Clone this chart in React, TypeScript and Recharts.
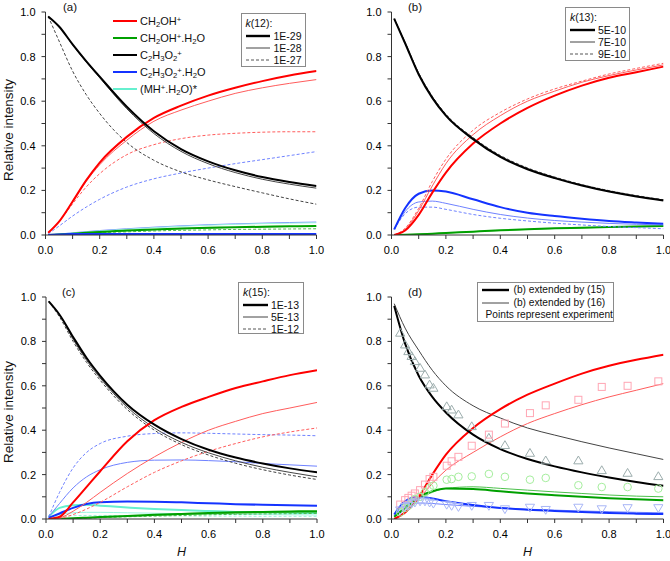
import React from 'react'
import { ComposedChart, Line, Scatter, XAxis, YAxis } from 'recharts'

// H values where the model curves are sampled
const hGrid = [0.01, 0.05, 0.1, 0.15, 0.2, 0.3, 0.4, 0.5, 0.6, 0.7, 0.8, 0.9, 1.0]
const axisTicks = [0, 0.1, 0.2, 0.3, 0.4, 0.5, 0.6, 0.7, 0.8, 0.9, 1.0]

// (a) k(12): 1E-29 / 1E-28 / 1E-27
const aRed29 = [0.01, 0.06, 0.15, 0.245, 0.325, 0.44, 0.525, 0.58, 0.625, 0.66, 0.69, 0.715, 0.735]
const aRed28 = [0.01, 0.06, 0.15, 0.24, 0.315, 0.425, 0.51, 0.56, 0.6, 0.635, 0.66, 0.68, 0.697]
const aRed27 = [0.01, 0.06, 0.14, 0.215, 0.275, 0.36, 0.405, 0.432, 0.448, 0.456, 0.461, 0.463, 0.463]
const aGreen29 = [0, 0.002, 0.006, 0.01, 0.014, 0.02, 0.025, 0.029, 0.032, 0.035, 0.037, 0.039, 0.04]
const aGreen28 = [0, 0.002, 0.005, 0.009, 0.013, 0.019, 0.024, 0.028, 0.031, 0.034, 0.036, 0.038, 0.039]
const aGreen27 = [0, 0.002, 0.004, 0.007, 0.01, 0.014, 0.018, 0.021, 0.023, 0.025, 0.026, 0.027, 0.028]
const aBlack29 = [0.98, 0.935, 0.855, 0.78, 0.71, 0.575, 0.465, 0.385, 0.33, 0.29, 0.26, 0.238, 0.22]
const aBlack28 = [0.98, 0.935, 0.853, 0.776, 0.705, 0.566, 0.455, 0.375, 0.32, 0.28, 0.25, 0.228, 0.21]
const aBlack27 = [0.98, 0.87, 0.735, 0.63, 0.545, 0.415, 0.335, 0.283, 0.247, 0.217, 0.189, 0.162, 0.138]
const aBlue29 = [0, 0.002, 0.004, 0.005, 0.005, 0.005, 0.005, 0.005, 0.005, 0.005, 0.005, 0.005, 0.005]
const aBlue28 = [0, 0.004, 0.01, 0.015, 0.02, 0.028, 0.035, 0.041, 0.046, 0.05, 0.053, 0.056, 0.058]
const aBlue27 = [0.005, 0.04, 0.085, 0.125, 0.16, 0.215, 0.252, 0.278, 0.3, 0.32, 0.338, 0.356, 0.374]
const aCyan29 = [0, 0.004, 0.009, 0.014, 0.018, 0.026, 0.033, 0.039, 0.044, 0.048, 0.051, 0.053, 0.055]

// (b) k(13): 5E-10 / 7E-10 / 9E-10
const bRed5 = [0, 0.02, 0.09, 0.19, 0.28, 0.41, 0.5, 0.57, 0.625, 0.67, 0.705, 0.73, 0.755]
const bRed7 = [0, 0.025, 0.11, 0.22, 0.32, 0.45, 0.535, 0.6, 0.645, 0.685, 0.715, 0.74, 0.763]
const bRed9 = [0, 0.03, 0.12, 0.24, 0.34, 0.47, 0.55, 0.61, 0.655, 0.69, 0.722, 0.747, 0.77]
const bGreen5 = [0, 0.001, 0.003, 0.006, 0.009, 0.015, 0.021, 0.026, 0.03, 0.033, 0.036, 0.038, 0.04]
const bGreen7 = [0, 0.001, 0.003, 0.006, 0.009, 0.015, 0.02, 0.025, 0.029, 0.032, 0.035, 0.037, 0.039]
const bBlack5 = [0.97, 0.86, 0.72, 0.615, 0.535, 0.43, 0.35, 0.295, 0.255, 0.222, 0.195, 0.173, 0.155]
const bBlack7 = [0.97, 0.862, 0.724, 0.619, 0.539, 0.434, 0.354, 0.298, 0.258, 0.224, 0.197, 0.175, 0.157]
const bBlack9 = [0.97, 0.864, 0.727, 0.622, 0.542, 0.437, 0.357, 0.301, 0.26, 0.226, 0.199, 0.177, 0.158]
const bBlue5 = [0.025, 0.12, 0.185, 0.2, 0.195, 0.16, 0.125, 0.1, 0.085, 0.073, 0.063, 0.056, 0.05]
const bBlue7 = [0.025, 0.105, 0.148, 0.152, 0.142, 0.115, 0.092, 0.076, 0.065, 0.058, 0.052, 0.048, 0.045]
const bBlue9 = [0.025, 0.095, 0.125, 0.125, 0.115, 0.092, 0.075, 0.063, 0.053, 0.045, 0.038, 0.033, 0.028]

// (c) k(15): 1E-13 / 5E-13 / 1E-12
const cRed1 = [0, 0.01, 0.075, 0.145, 0.215, 0.35, 0.445, 0.505, 0.55, 0.59, 0.62, 0.648, 0.67]
const cRed5 = [0, 0.005, 0.035, 0.075, 0.12, 0.205, 0.28, 0.345, 0.4, 0.44, 0.475, 0.5, 0.525]
const cRed10 = [0, 0.003, 0.02, 0.045, 0.075, 0.145, 0.21, 0.262, 0.305, 0.34, 0.37, 0.392, 0.41]
const cGreen1 = [0, 0.001, 0.003, 0.006, 0.009, 0.014, 0.019, 0.023, 0.027, 0.03, 0.032, 0.034, 0.035]
const cGreen5 = [0, 0.001, 0.003, 0.005, 0.008, 0.012, 0.016, 0.02, 0.023, 0.026, 0.028, 0.03, 0.031]
const cGreen10 = [0, 0.001, 0.002, 0.004, 0.006, 0.01, 0.013, 0.016, 0.019, 0.021, 0.023, 0.024, 0.025]
const cBlack1 = [0.98, 0.92, 0.82, 0.725, 0.645, 0.515, 0.425, 0.36, 0.312, 0.277, 0.25, 0.228, 0.21]
const cBlack5 = [0.98, 0.92, 0.81, 0.715, 0.635, 0.503, 0.41, 0.345, 0.298, 0.262, 0.233, 0.21, 0.19]
const cBlack10 = [0.98, 0.91, 0.8, 0.705, 0.625, 0.493, 0.4, 0.335, 0.288, 0.251, 0.222, 0.198, 0.178]
const cBlue1 = [0.005, 0.025, 0.05, 0.068, 0.076, 0.079, 0.078, 0.075, 0.071, 0.067, 0.064, 0.062, 0.06]
const cBlue5 = [0.01, 0.07, 0.14, 0.19, 0.222, 0.255, 0.265, 0.266, 0.263, 0.258, 0.25, 0.244, 0.238]
const cBlue10 = [0.01, 0.12, 0.23, 0.3, 0.34, 0.373, 0.385, 0.388, 0.386, 0.383, 0.38, 0.378, 0.375]
const cCyan1 = [0.01, 0.05, 0.062, 0.064, 0.06, 0.052, 0.045, 0.04, 0.036, 0.032, 0.03, 0.028, 0.027]
const cCyan5 = [0.005, 0.02, 0.028, 0.03, 0.03, 0.028, 0.026, 0.024, 0.022, 0.021, 0.02, 0.019, 0.018]
const cCyan10 = [0.005, 0.012, 0.015, 0.016, 0.016, 0.015, 0.015, 0.014, 0.013, 0.013, 0.012, 0.012, 0.012]

// (d) (b) extended by (15) / (16)
const dRed15 = [0, 0.03, 0.1, 0.2, 0.29, 0.41, 0.495, 0.56, 0.61, 0.655, 0.69, 0.717, 0.74]
const dRed16 = [0, 0.025, 0.09, 0.16, 0.22, 0.3, 0.37, 0.43, 0.475, 0.515, 0.55, 0.58, 0.61]
const dGreen15 = [0.01, 0.05, 0.1, 0.125, 0.137, 0.135, 0.125, 0.115, 0.107, 0.1, 0.094, 0.089, 0.085]
const dGreen16 = [0.01, 0.045, 0.09, 0.12, 0.138, 0.145, 0.138, 0.13, 0.122, 0.115, 0.108, 0.103, 0.1]
const dBlack15 = [0.96, 0.79, 0.645, 0.55, 0.48, 0.38, 0.315, 0.27, 0.237, 0.21, 0.187, 0.167, 0.15]
const dBlack16 = [0.97, 0.86, 0.76, 0.67, 0.6, 0.51, 0.455, 0.41, 0.378, 0.348, 0.32, 0.294, 0.268]
const dBlue15 = [0.02, 0.08, 0.1, 0.092, 0.08, 0.063, 0.05, 0.042, 0.036, 0.031, 0.027, 0.024, 0.022]
const dBlue16 = [0.015, 0.06, 0.072, 0.07, 0.065, 0.057, 0.05, 0.044, 0.04, 0.036, 0.033, 0.03, 0.028]

// (d) experimental points
const expH = [0.032, 0.05, 0.062, 0.074, 0.086, 0.105, 0.123, 0.14, 0.154, 0.203, 0.221, 0.246, 0.295, 0.358, 0.417, 0.509, 0.567, 0.687, 0.773, 0.868, 0.981]
const expC2H3O2 = [0.838, 0.785, 0.755, 0.733, 0.71, 0.68, 0.65, 0.605, 0.59, 0.507, 0.492, 0.47, 0.417, 0.365, 0.332, 0.297, 0.263, 0.263, 0.219, 0.207, 0.192]
const expCH2OH = [0.065, 0.085, 0.095, 0.105, 0.115, 0.13, 0.155, 0.18, 0.19, 0.24, 0.26, 0.28, 0.33, 0.38, 0.43, 0.477, 0.512, 0.537, 0.595, 0.6, 0.62]
const expCH2OHH2O = [0.03, 0.05, 0.06, 0.075, 0.09, 0.1, 0.12, 0.14, 0.15, 0.177, 0.18, 0.19, 0.192, 0.203, 0.19, 0.177, 0.185, 0.152, 0.144, 0.144, 0.137]
const expC2H3O2H2O = [0.04, 0.055, 0.06, 0.07, 0.075, 0.08, 0.08, 0.075, 0.07, 0.065, 0.06, 0.055, 0.06, 0.06, 0.045, 0.052, 0.042, 0.052, 0.045, 0.05, 0.05]

const FONT = '"Liberation Sans", Arial, sans-serif'

const TONES: Record<string, { main: string; light: string }> = {
  red: { main: '#ff0000', light: '#ff5c5c' },
  green: { main: '#00a000', light: '#4cc04c' },
  black: { main: '#000000', light: '#444444' },
  blue: { main: '#1433ff', light: '#6f82ff' },
  cyan: { main: '#66f0cf', light: '#9cf5df' },
}

type Kind = 'thick' | 'thin' | 'dash'
type Series = { key: string; values: number[]; tone: string; kind: Kind }

const strokeFor = (tone: string, kind: Kind) => ({
  stroke: kind === 'thick' ? TONES[tone].main : TONES[tone].light,
  strokeWidth: kind === 'thick' ? 2 : 1,
  strokeDasharray: kind === 'dash' ? '3 2' : undefined,
})

const panelA: Series[] = [
  { key: 'bl28', values: aBlue28, tone: 'blue', kind: 'thin' },
  { key: 'cy29', values: aCyan29, tone: 'cyan', kind: 'thin' },
  { key: 'g27', values: aGreen27, tone: 'green', kind: 'dash' },
  { key: 'g28', values: aGreen28, tone: 'green', kind: 'thin' },
  { key: 'g29', values: aGreen29, tone: 'green', kind: 'thick' },
  { key: 'bl29', values: aBlue29, tone: 'blue', kind: 'thick' },
  { key: 'bl27', values: aBlue27, tone: 'blue', kind: 'dash' },
  { key: 'r27', values: aRed27, tone: 'red', kind: 'dash' },
  { key: 'k27', values: aBlack27, tone: 'black', kind: 'dash' },
  { key: 'r28', values: aRed28, tone: 'red', kind: 'thin' },
  { key: 'k28', values: aBlack28, tone: 'black', kind: 'thin' },
  { key: 'r29', values: aRed29, tone: 'red', kind: 'thick' },
  { key: 'k29', values: aBlack29, tone: 'black', kind: 'thick' },
]

const panelB: Series[] = [
  { key: 'g7', values: bGreen7, tone: 'green', kind: 'thin' },
  { key: 'g5', values: bGreen5, tone: 'green', kind: 'thick' },
  { key: 'bl9', values: bBlue9, tone: 'blue', kind: 'dash' },
  { key: 'bl7', values: bBlue7, tone: 'blue', kind: 'thin' },
  { key: 'bl5', values: bBlue5, tone: 'blue', kind: 'thick' },
  { key: 'r9', values: bRed9, tone: 'red', kind: 'dash' },
  { key: 'r7', values: bRed7, tone: 'red', kind: 'thin' },
  { key: 'r5', values: bRed5, tone: 'red', kind: 'thick' },
  { key: 'k9', values: bBlack9, tone: 'black', kind: 'dash' },
  { key: 'k7', values: bBlack7, tone: 'black', kind: 'thin' },
  { key: 'k5', values: bBlack5, tone: 'black', kind: 'thick' },
]

const panelC: Series[] = [
  { key: 'cy10', values: cCyan10, tone: 'cyan', kind: 'dash' },
  { key: 'cy5', values: cCyan5, tone: 'cyan', kind: 'thin' },
  { key: 'cy1', values: cCyan1, tone: 'cyan', kind: 'thick' },
  { key: 'g10', values: cGreen10, tone: 'green', kind: 'dash' },
  { key: 'g5', values: cGreen5, tone: 'green', kind: 'thin' },
  { key: 'g1', values: cGreen1, tone: 'green', kind: 'thick' },
  { key: 'bl10', values: cBlue10, tone: 'blue', kind: 'dash' },
  { key: 'bl5', values: cBlue5, tone: 'blue', kind: 'thin' },
  { key: 'bl1', values: cBlue1, tone: 'blue', kind: 'thick' },
  { key: 'r10', values: cRed10, tone: 'red', kind: 'dash' },
  { key: 'r5', values: cRed5, tone: 'red', kind: 'thin' },
  { key: 'k10', values: cBlack10, tone: 'black', kind: 'dash' },
  { key: 'k5', values: cBlack5, tone: 'black', kind: 'thin' },
  { key: 'r1', values: cRed1, tone: 'red', kind: 'thick' },
  { key: 'k1', values: cBlack1, tone: 'black', kind: 'thick' },
]

const panelD: Series[] = [
  { key: 'bl16', values: dBlue16, tone: 'blue', kind: 'thin' },
  { key: 'bl15', values: dBlue15, tone: 'blue', kind: 'thick' },
  { key: 'g16', values: dGreen16, tone: 'green', kind: 'thin' },
  { key: 'g15', values: dGreen15, tone: 'green', kind: 'thick' },
  { key: 'r16', values: dRed16, tone: 'red', kind: 'thin' },
  { key: 'k16', values: dBlack16, tone: 'black', kind: 'thin' },
  { key: 'r15', values: dRed15, tone: 'red', kind: 'thick' },
  { key: 'k15', values: dBlack15, tone: 'black', kind: 'thick' },
]

type Shape = 'up' | 'down' | 'square' | 'circle'
type PointSet = { key: string; values: number[]; shape: Shape; color: string }

const panelDPoints: PointSet[] = [
  { key: 'tri', values: expC2H3O2, shape: 'up', color: '#9cadad' },
  { key: 'sq', values: expCH2OH, shape: 'square', color: '#ffa6b4' },
  { key: 'ci', values: expCH2OHH2O, shape: 'circle', color: '#a6ee9e' },
  { key: 'dn', values: expC2H3O2H2O, shape: 'down', color: '#a8b6f6' },
]

function Marker({ cx, cy, shape, color }: { cx: number; cy: number; shape: Shape; color: string }) {
  if (cx == null || cy == null) return null
  const common = { fill: 'none', stroke: color, strokeWidth: 1 }
  if (shape === 'circle') return <circle cx={cx} cy={cy} r={3.8} {...common} />
  if (shape === 'square') return <rect x={cx - 3.5} y={cy - 3.5} width={7} height={7} {...common} />
  const s = 4.6
  const pts =
    shape === 'up'
      ? `${cx},${cy - s} ${cx - s},${cy + s * 0.7} ${cx + s},${cy + s * 0.7}`
      : `${cx},${cy + s} ${cx - s},${cy - s * 0.7} ${cx + s},${cy - s * 0.7}`
  return <polygon points={pts} {...common} />
}

const tickLabel = (v: number) => (Math.round(v * 10) % 2 === 0 ? v.toFixed(1) : '')

type PanelProps = {
  left: number
  top: number
  height: number
  margin: { top: number; right: number; bottom: number; left: number }
  series: Series[]
  points?: PointSet[]
}

function Panel({ left, top, height, margin, series, points }: PanelProps) {
  const rows = hGrid.map((h, i) => {
    const row: Record<string, number> = { H: h }
    series.forEach((s) => {
      row[s.key] = s.values[i]
    })
    return row
  })
  const axisStyle = { stroke: '#333' }
  return (
    <div style={{ position: 'absolute', left, top }}>
      <ComposedChart width={335} height={height} data={rows} margin={margin}>
        <XAxis
          type="number"
          dataKey="H"
          domain={[0, 1]}
          ticks={axisTicks}
          interval={0}
          tickFormatter={tickLabel}
          tickSize={4}
          tickMargin={7}
          height={30}
          allowDataOverflow
          axisLine={axisStyle}
          tickLine={axisStyle}
          tick={{ fontSize: 11, fill: '#000' }}
        />
        <YAxis
          type="number"
          domain={[0, 1]}
          ticks={axisTicks}
          interval={0}
          tickFormatter={tickLabel}
          tickSize={4}
          tickMargin={6}
          width={40}
          allowDataOverflow
          axisLine={axisStyle}
          tickLine={axisStyle}
          tick={{ fontSize: 11, fill: '#000' }}
        />
        {points?.map((p) => (
          <Scatter
            key={p.key}
            data={expH.map((h, i) => ({ H: h, v: p.values[i] }))}
            dataKey="v"
            isAnimationActive={false}
            shape={(props: any) => <Marker cx={props.cx} cy={props.cy} shape={p.shape} color={p.color} />}
          />
        ))}
        {series.map((s) => (
          <Line
            key={s.key}
            type="monotone"
            dataKey={s.key}
            dot={false}
            activeDot={false}
            isAnimationActive={false}
            {...strokeFor(s.tone, s.kind)}
          />
        ))}
      </ComposedChart>
    </div>
  )
}

const sub = (t: string) => <sub style={{ fontSize: '0.7em', verticalAlign: '-0.25em', lineHeight: 0 }}>{t}</sub>
const sup = (t: string) => <sup style={{ fontSize: '0.7em', verticalAlign: '0.45em', lineHeight: 0 }}>{t}</sup>

const speciesLegend: { tone: string; label: React.ReactNode }[] = [
  { tone: 'red', label: <>CH{sub('2')}OH{sup('+')}</> },
  { tone: 'green', label: <>CH{sub('2')}OH{sup('+')}.H{sub('2')}O</> },
  { tone: 'black', label: <>C{sub('2')}H{sub('3')}O{sub('2')}{sup('+')}</> },
  { tone: 'blue', label: <>C{sub('2')}H{sub('3')}O{sub('2')}{sup('+')}.H{sub('2')}O</> },
  { tone: 'cyan', label: <>(MH{sup('+')}.H{sub('2')}O)*</> },
]

function Sample({ kind, width }: { kind: Kind; width: number }) {
  const st = {
    thick: { stroke: '#000', strokeWidth: 2.4 },
    thin: { stroke: '#444', strokeWidth: 1 },
    dash: { stroke: '#555', strokeWidth: 1, strokeDasharray: '3 2' },
  }[kind]
  return (
    <svg width={width} height={6} style={{ display: 'block' }}>
      <line x1={0} y1={3} x2={width} y2={3} {...st} />
    </svg>
  )
}

function KBox({ left, top, width, height, title, labels }: { left: number; top: number; width: number; height: number; title: string; labels: string[] }) {
  const kinds: Kind[] = ['thick', 'thin', 'dash']
  return (
    <div
      style={{
        position: 'absolute',
        left,
        top,
        width,
        height,
        boxSizing: 'border-box',
        border: '1px solid #8a8a8a',
        background: '#fff',
        fontSize: 10.5,
        lineHeight: '12px',
        padding: '3px 3px 0 4px',
        color: '#111',
        whiteSpace: 'nowrap',
      }}
    >
      <div style={{ height: 13 }}>
        <i>k</i>({title}):
      </div>
      {labels.map((l, i) => (
        <div key={l} style={{ display: 'flex', alignItems: 'center', height: 12 }}>
          <Sample kind={kinds[i]} width={25} />
          <span style={{ marginLeft: 3 }}>{l}</span>
        </div>
      ))}
    </div>
  )
}

const panelTag = (text: string, left: number, top: number) => (
  <div style={{ position: 'absolute', left, top, fontSize: 11.5, lineHeight: '12px' }}>{text}</div>
)

const yTitle = (cy: number) => (
  <div style={{ position: 'absolute', left: 9, top: cy, width: 0, height: 0 }}>
    <div
      style={{
        position: 'absolute',
        transform: 'translate(-50%, -50%) rotate(-90deg)',
        whiteSpace: 'nowrap',
        fontSize: 13.5,
        lineHeight: '14px',
      }}
    >
      Relative intensity
    </div>
  </div>
)

const xTitle = (cx: number, cy: number) => (
  <div style={{ position: 'absolute', left: cx - 10, top: cy - 7, width: 20, textAlign: 'center', fontSize: 12.5, fontStyle: 'italic', lineHeight: '14px' }}>
    H
  </div>
)

export default function App() {
  return (
    <div style={{ position: 'absolute', left: 0, top: 0, width: 670, height: 561, background: '#fff', fontFamily: FONT, color: '#111', overflow: 'hidden' }}>
      <Panel left={0} top={0} height={280} margin={{ top: 12, right: 18.5, bottom: 15, left: 5.5 }} series={panelA} />
      <Panel left={335} top={0} height={280} margin={{ top: 12, right: 6.5, bottom: 15, left: 16.5 }} series={panelB} />
      <Panel left={0} top={280} height={281} margin={{ top: 17, right: 18, bottom: 12, left: 6 }} series={panelC} />
      <Panel left={335} top={280} height={281} margin={{ top: 17, right: 6.5, bottom: 12, left: 16.5 }} series={panelD} points={panelDPoints} />

      {panelTag('(a)', 63, 1)}
      {panelTag('(b)', 408, 1)}
      {panelTag('(c)', 62, 286)}
      {panelTag('(d)', 408, 286)}

      {yTitle(130)}
      {yTitle(412)}
      {xTitle(181.5, 552)}
      {xTitle(527.5, 552)}

      <div style={{ position: 'absolute', left: 113, top: 12.5, fontSize: 11, lineHeight: '17px', whiteSpace: 'nowrap' }}>
        {speciesLegend.map((s) => (
          <div key={s.tone} style={{ display: 'flex', alignItems: 'center', height: 17 }}>
            <svg width={24} height={4} style={{ display: 'block' }}>
              <line x1={0} y1={2} x2={24} y2={2} stroke={TONES[s.tone].main} strokeWidth={2} />
            </svg>
            <span style={{ marginLeft: 3 }}>{s.label}</span>
          </div>
        ))}
      </div>

      <KBox left={240.5} top={12.5} width={65} height={54} title="12" labels={['1E-29', '1E-28', '1E-27']} />
      <KBox left={565} top={6.5} width={65} height={54.5} title="13" labels={['5E-10', '7E-10', '9E-10']} />
      <KBox left={238} top={281.5} width={65.5} height={52} title="15" labels={['1E-13', '5E-13', '1E-12']} />

      <div
        style={{
          position: 'absolute',
          left: 476.5,
          top: 281.5,
          width: 137,
          height: 40,
          boxSizing: 'border-box',
          border: '1px solid #8a8a8a',
          background: '#fff',
          fontSize: 10.2,
          lineHeight: '12.5px',
          padding: '1px 0 0 4px',
          whiteSpace: 'nowrap',
        }}
      >
        <div style={{ display: 'flex', alignItems: 'center', height: 13 }}>
          <Sample kind="thick" width={27} />
          <span style={{ marginLeft: 5 }}>(b) extended by (15)</span>
        </div>
        <div style={{ display: 'flex', alignItems: 'center', height: 12.5 }}>
          <Sample kind="thin" width={27} />
          <span style={{ marginLeft: 5 }}>(b) extended by (16)</span>
        </div>
        <div style={{ height: 12.5, paddingLeft: 4 }}>Points represent experiment</div>
      </div>
    </div>
  )
}
